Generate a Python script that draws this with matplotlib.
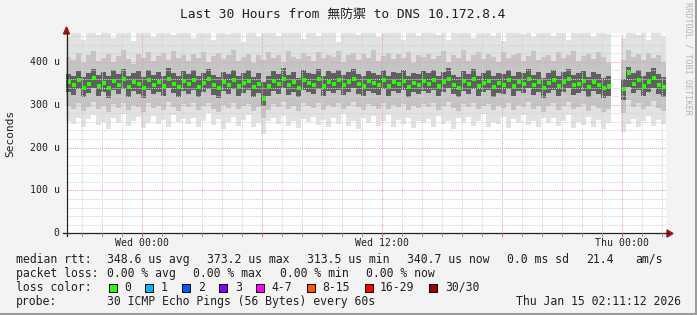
import numpy as np
import matplotlib.pyplot as plt
from matplotlib.patches import Polygon, Rectangle
from matplotlib.lines import Line2D

# time axis: hours relative to Wed 00:00, graph ends Thu 02:11:12
t_start = -3.8133
t_end = 26.1867
bin_width = 0.25

nan = float('nan')

# median rtt per 15 min bin (microseconds)
med = [352, 345, 358, 340, 349, 362, 344, 351, 338, 356, 347, 360, 342, 353, 348, 339, 357, 346, 352, 343, 361, 349, 341, 355,
       348, 357, 342, 351, 360, 345, 339, 353, 347, 358, 344, 350, 356, 341, 349, 314, 343, 355, 348, 361, 346, 352, 340, 357,
       351, 347, 359, 343, 354, 349, 357, 345, 352, 360, 348, 343, 355, 350, 346, 358, 344, 353, 349, 356, 342, 351, 347, 355,
       349, 357, 343, 352, 361, 346, 340, 355, 348, 359, 344, 351, 356, 342, 350, 347, 358, 343, 353, 349, 360, 345, 352, 339,
       350, 357, 343, 352, 360, 345, 349, 355, 341, 353, 347, 338, 344, nan, nan, 336, 373, 349, 357, 344, 352, 362, 347, 341]

# smoke: outer extent (min / max ping)
lo = [262, 255, 270, 248, 266, 275, 252, 260, 244, 268, 257, 279, 250, 263, 271, 246, 258, 273, 254, 265, 249, 277, 259, 267,
      256, 270, 247, 262, 281, 253, 266, 244, 259, 272, 251, 264, 276, 248, 258, 232, 262, 269, 255, 274, 250, 261, 245, 267,
      259, 272, 253, 265, 247, 270, 256, 278, 250, 263, 244, 268, 257, 273, 251, 261, 276, 248, 265, 254, 270, 246, 262, 258,
      266, 249, 274, 255, 261, 243, 269, 257, 272, 250, 263, 278, 247, 260, 254, 271, 245, 266, 258, 275, 252, 262, 248, 270,
      257, 268, 251, 263, 275, 246, 260, 253, 271, 249, 265, 244, 258, nan, nan, 236, 255, 266, 248, 261, 273, 250, 264, 256]
hi = [458, 490, 472, 451, 495, 480, 463, 500, 486, 455, 478, 492, 468, 449, 484, 497, 470, 459, 488, 476, 493, 462, 481, 474,
      487, 456, 495, 471, 483, 452, 499, 477, 465, 490, 473, 446, 488, 481, 459, 494, 470, 485, 461, 497, 479, 467, 489, 453,
      492, 475, 460, 498, 484, 470, 447, 489, 478, 493, 462, 485, 471, 499, 457, 482, 490, 468, 476, 450, 494, 483, 461, 487,
      474, 496, 463, 485, 451, 491, 479, 468, 497, 456, 486, 472, 493, 460, 481, 448, 490, 476, 499, 465, 484, 458, 492, 470,
      488, 461, 495, 477, 452, 486, 469, 498, 480, 457, 491, 473, 464, nan, nan, 455, 497, 478, 463, 489, 450, 484, 471, 459]

# smoke: middle band
mlo = [298, 291, 304, 286, 295, 306, 289, 297, 283, 302, 293, 305, 287, 299, 294, 284, 303, 292, 298, 288, 307, 295, 286, 301,
       294, 303, 287, 297, 305, 290, 284, 299, 293, 304, 289, 296, 302, 286, 295, 270, 288, 301, 294, 306, 291, 298, 285, 303,
       297, 293, 305, 288, 300, 295, 303, 290, 298, 306, 294, 288, 301, 296, 291, 304, 289, 299, 295, 302, 287, 297, 293, 301,
       295, 303, 288, 298, 307, 292, 285, 301, 294, 305, 289, 297, 302, 287, 296, 293, 304, 288, 299, 295, 306, 290, 298, 284,
       296, 303, 288, 298, 306, 290, 295, 301, 286, 299, 293, 283, 289, nan, nan, 280, 310, 295, 303, 289, 298, 308, 293, 286]
mhi = [412, 405, 421, 398, 416, 425, 403, 410, 419, 400, 414, 427, 407, 396, 418, 409, 423, 401, 413, 420, 404, 426, 408, 415,
       402, 418, 410, 424, 399, 413, 421, 406, 417, 428, 403, 411, 419, 397, 415, 405, 422, 409, 416, 400, 425, 412, 407, 420,
       414, 401, 423, 408, 417, 411, 426, 399, 415, 420, 404, 418, 410, 427, 402, 413, 421, 406, 419, 409, 424, 398, 416, 411,
       419, 406, 413, 425, 400, 417, 410, 428, 403, 415, 422, 407, 418, 412, 399, 424, 408, 416, 421, 402, 414, 426, 405, 411,
       417, 403, 422, 409, 415, 426, 401, 413, 419, 407, 424, 411, 398, nan, nan, 405, 428, 412, 418, 404, 421, 409, 416, 400]

# smoke: dark core
clo = [330, 323, 336, 318, 327, 338, 321, 329, 315, 334, 325, 337, 319, 331, 326, 316, 335, 324, 330, 320, 339, 327, 318, 333,
       326, 335, 319, 329, 337, 322, 316, 331, 325, 336, 321, 328, 334, 318, 327, 296, 320, 333, 326, 338, 323, 330, 317, 335,
       329, 325, 337, 320, 332, 327, 335, 322, 330, 338, 326, 320, 333, 328, 323, 336, 321, 331, 327, 334, 319, 329, 325, 333,
       327, 335, 320, 330, 339, 324, 317, 333, 326, 337, 321, 329, 334, 319, 328, 325, 336, 320, 331, 327, 338, 322, 330, 316,
       328, 335, 320, 330, 338, 322, 327, 333, 318, 331, 325, 315, 321, nan, nan, 312, 342, 327, 335, 321, 330, 340, 325, 318]
chi = [372, 368, 379, 365, 374, 383, 369, 376, 366, 380, 371, 384, 367, 375, 378, 364, 381, 370, 377, 368, 385, 373, 366, 379,
       371, 380, 366, 375, 384, 369, 364, 377, 372, 382, 368, 374, 381, 365, 373, 352, 367, 379, 371, 385, 370, 376, 363, 381,
       375, 371, 383, 367, 378, 373, 381, 369, 376, 384, 372, 366, 379, 374, 370, 382, 368, 377, 373, 380, 366, 375, 371, 379,
       373, 381, 367, 376, 385, 370, 364, 379, 372, 383, 368, 375, 380, 366, 374, 371, 382, 367, 377, 373, 384, 369, 376, 363,
       374, 381, 367, 376, 384, 369, 373, 379, 365, 377, 371, 362, 368, nan, nan, 360, 388, 373, 381, 368, 376, 386, 371, 365]

y_ticks = [0, 100, 200, 300, 400]
y_labels = ['0', '100 u', '200 u', '300 u', '400 u']
x_ticks = [0, 12, 24]
x_labels = ['Wed 00:00', 'Wed 12:00', 'Thu 00:00']

loss_labels = ['0', '1', '2', '3', '4-7', '8-15', '16-29', '30/30']
loss_colors = ['#26ff00', '#00b8ff', '#0059ff', '#7e00ff', '#ff00ff', '#ff5500', '#ff0000', '#a10000']

W, H = 697, 315
mono = ['DejaVu Sans Mono', 'Noto Sans CJK SC']

fig = plt.figure(figsize=(W / 100, H / 100), dpi=100, facecolor='#f3f3f3')


def fx(x):
    return x / W


def fy(y):
    return 1 - y / H


ax = fig.add_axes([fx(66), fy(233.3), 600 / W, 200 / H])
ax.set_facecolor('white')
ax.set_xlim(t_start, t_end)
ax.set_ylim(0, 466.7)
for s in ax.spines.values():
    s.set_visible(False)
ax.set_xticks([])
ax.set_yticks([])

n = len(med)
t = t_start + bin_width * (np.arange(n) + 0.5)
med = np.array(med, dtype=float)
bands = [(lo, hi, '#e2e2e2'), (mlo, mhi, '#c4c4c4'), (clo, chi, '#606060')]
for a, b, c in bands:
    a = np.array(a, dtype=float)
    b = np.array(b, dtype=float)
    ok = ~np.isnan(a)
    ax.bar(t[ok], b[ok] - a[ok], bottom=a[ok], width=bin_width, color=c,
           linewidth=0, antialiased=False, zorder=1)

# grid (rrdtool draws it over the smoke)
for h in range(-3, 27):
    major = h % 6 == 0
    ax.axvline(h, color='#eaa4a4' if major else '#d2d2d2', lw=0.75,
               ls=(0, (1, 1)), zorder=2)
for v in range(20, 467, 20):
    major = v % 100 == 0
    ax.axhline(v, color='#eaa4a4' if major else '#d2d2d2', lw=0.75,
               ls=(0, (1, 1)), zorder=2)

ax.plot(t, med, ls='none', marker='s', ms=2.3, mew=0, color=loss_colors[0], zorder=4)

# axes lines, ticks and arrows
tf = fig.transFigure
fig.add_artist(Line2D([fx(63), fx(668)], [fy(233.3), fy(233.3)], color='#202020', lw=0.9, transform=tf))
fig.add_artist(Line2D([fx(66.5), fx(66.5)], [fy(236), fy(33)], color='#202020', lw=0.9, transform=tf))
fig.add_artist(Polygon([[fx(667), fy(230)], [fx(667), fy(237)], [fx(673), fy(233.5)]],
                       closed=True, color='#a01010', transform=tf))
fig.add_artist(Polygon([[fx(63.5), fy(34)], [fx(69.5), fy(34)], [fx(66.5), fy(27)]],
                       closed=True, color='#a01010', transform=tf))
for h in range(-3, 27):
    xp = 142 + 20 * h
    major = h % 6 == 0
    fig.add_artist(Line2D([fx(xp), fx(xp)], [fy(233.3), fy(236)],
                          color='#d06060' if major else '#909090', lw=0.7, transform=tf))

# tick labels
for v, lab in zip(y_ticks, y_labels):
    yp = 233.3 - v * 200 / 466.7
    fig.text(fx(59.5), fy(yp), lab, ha='right', va='center', fontsize=7.1,
             family=mono, color='#202020')
for h, lab in zip(x_ticks, x_labels):
    fig.text(fx(142 + 20 * h), fy(242.5), lab, ha='center', va='center', fontsize=7.1,
             family=mono, color='#202020')

fig.text(fx(10.5), fy(133), 'Seconds', rotation=90, ha='center', va='center',
         fontsize=8, family=mono, color='#202020')
fig.text(fx(343), fy(14.5), 'Last 30 Hours from 無防禦 to DNS 10.172.8.4', ha='center',
         va='center', fontsize=9.3, family=mono, color='#202020')
fig.text(fx(688), fy(58), 'RRDTOOL / TOBI OETIKER', rotation=270, ha='center', va='center',
         fontsize=6.1, family=mono, color='#b4b4b4')

# legend block
fs = 8.3
rows = [
    (259.5, [(16, 'median rtt:'), (107, '348.6 us avg'), (207, '373.2 us max'), (307, '313.5 us min'),
             (407, '340.7 us now'), (507, '0.0 ms sd'), (586, '21.4'), (635, 'am/s')]),
    (273.5, [(16, 'packet loss:'), (107, '0.00 % avg'), (193.5, '0.00 % max'), (279.5, '0.00 % min'),
             (366, '0.00 % now')]),
    (287.5, [(16, 'loss color:')]),
    (301.5, [(16, 'probe:'), (107, '30 ICMP Echo Pings (56 Bytes) every 60s')]),
]
for yp, items in rows:
    for xp, s in items:
        fig.text(fx(xp), fy(yp), s, ha='left', va='center', fontsize=fs, family=mono, color='#202020')
fig.text(fx(680.5), fy(301.5), 'Thu Jan 15 02:11:12 2026', ha='right', va='center', fontsize=fs,
         family=mono, color='#202020')

bx = 108.5
for lab, col in zip(loss_labels, loss_colors):
    fig.add_artist(Rectangle((fx(bx), fy(291.5)), 8 / W, 8 / H, facecolor=col,
                             edgecolor='black', lw=0.7, transform=tf))
    fig.text(fx(bx + 15.5), fy(287.5), lab, ha='left', va='center', fontsize=fs, family=mono, color='#202020')
    bx += 30 + 6.92 * len(lab)

# image frame
fig.add_artist(Line2D([0, 1], [fy(313.5), fy(313.5)], color='#9c9c9c', lw=2.2, transform=tf))
fig.add_artist(Line2D([fx(695.5), fx(695.5)], [0, 1], color='#9c9c9c', lw=2.2, transform=tf))

fig.savefig('out.png', dpi=100, facecolor=fig.get_facecolor())
